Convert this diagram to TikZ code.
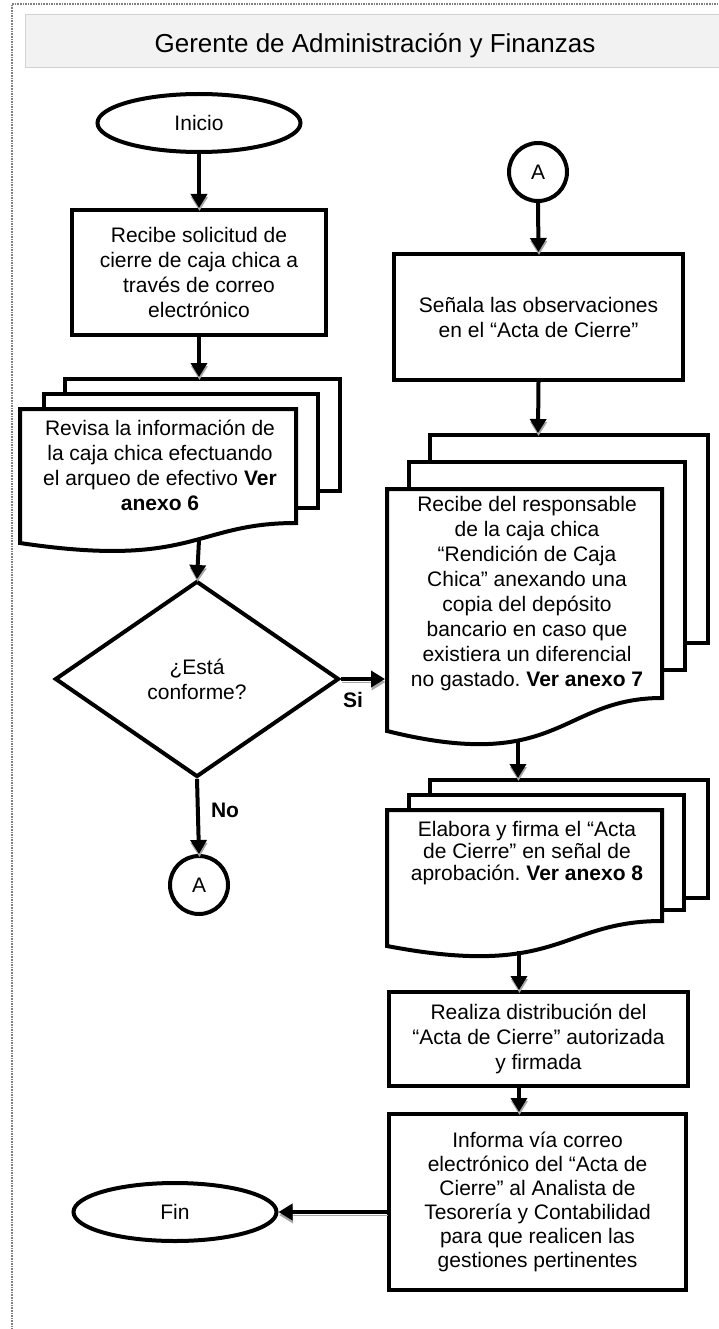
\documentclass[tikz,border=0pt]{standalone}
\usepackage{fontspec}
\setmainfont{Liberation Sans}
\usetikzlibrary{arrows.meta,shapes.geometric,calc}
\frenchspacing
\begin{document}
\begin{tikzpicture}[x=1pt,y=-1pt,
  every node/.style={font=\fontsize{21}{25}\selectfont, align=center, inner sep=0pt},
  proc/.style={draw, line width=4pt, fill=white, rectangle},
  term/.style={draw, line width=4pt, fill=white, ellipse, minimum width=203pt, minimum height=58pt},
  conn/.style={draw, line width=4pt, fill=white, circle, minimum size=58pt},
  page/.style={draw, line width=4pt, fill=white, line join=miter},
  flow/.style={line width=4pt, -{Triangle[width=16pt,length=14pt]},
    preaction={draw=black!35, transform canvas={shift={(0.5pt,-3pt)}}}},
  lbl/.style={font=\fontsize{21}{25}\selectfont\bfseries}]
\useasboundingbox (0,0) rectangle (719,1329);
% page border
\draw[black!50, line width=1.3pt, dash pattern=on 1.6pt off 1pt] (12,1335) -- (12,4) -- (725,4);
% header
\node[fill=black!5, draw=black!18, line width=1pt, minimum width=700pt, minimum height=53pt, anchor=north west] (hdrbox) at (25,14) {};
\node[font=\fontsize{26}{30}\selectfont] (hdr) at (375,46) {Gerente de Administración y Finanzas};
% left column
\node[term] (ini) at (199,123) {Inicio};
\node[proc, minimum width=254pt, minimum height=125pt] (b1) at (199,272.5)
  {Recibe solicitud de\\cierre de caja chica a\\través de correo\\electrónico};
% multidocument 1
\draw[page] (65,379) rectangle (340,491);
\draw[page] (44,394) rectangle (318,508);
\draw[page] (20,409) -- (296,409) -- (296,523) .. controls (194,523) and (194,569) .. (20,543) -- cycle;
\node (d1) at (160,465) {Revisa la información de\\la caja chica efectuando\\el arqueo de efectivo \textbf{Ver}\\\textbf{anexo 6}};
\coordinate (d1in) at (199,377);
\coordinate (d1out) at (199,540);
% decision
\node[draw, line width=4pt, fill=white, diamond, minimum width=284pt, minimum height=196pt] (dec) at (197,679) {¿Está\\conforme?};
\node[conn] (ca1) at (199,885) {A};
% right column
\node[conn] (ca2) at (538,172) {A};
\node[proc, minimum width=289pt, minimum height=126pt] (b2) at (538.5,317)
  {Señala las observaciones\\en el “Acta de Cierre”};
% multidocument 2
\draw[page] (430,435) rectangle (708,643);
\draw[page] (409,462) rectangle (685,670);
\draw[page] (387,489) -- (662,489) -- (662,698) .. controls (560,698) and (560,774) .. (387,731) -- cycle;
\node (d2) at (527,594) {Recibe del responsable\\de la caja chica\\“Rendición de Caja\\Chica” anexando una\\copia del depósito\\bancario en caso que\\existiera un diferencial\\no gastado. \textbf{Ver anexo 7}};
\coordinate (d2in) at (538,433);
\coordinate (d2left) at (385,679);
\coordinate (d2out) at (518,739);
% multidocument 3
\draw[page] (430,780) rectangle (708,898);
\draw[page] (409,795) rectangle (684,910);
\draw[page] (387,810) -- (662,810) -- (662,921) .. controls (560,921) and (560,979) .. (387,946) -- cycle;
\node[font=\fontsize{21}{22}\selectfont] (d3) at (527,853) {Elabora y firma el “Acta\\de Cierre” en señal de\\aprobación. \textbf{Ver anexo 8}};
\coordinate (d3in) at (518,778);
\coordinate (d3out) at (519,951);
% processes
\node[proc, minimum width=299pt, minimum height=94pt] (b4) at (538.5,1039)
  {Realiza distribución del\\“Acta de Cierre” autorizada\\y firmada};
\node[proc, minimum width=297pt, minimum height=176pt, font=\fontsize{21}{24}\selectfont] (b5) at (537.5,1202)
  {Informa vía correo\\electrónico del “Acta de\\Cierre” al Analista de\\Tesorería y Contabilidad\\para que realicen las\\gestiones pertinentes};
\node[term] (fin) at (175,1212) {Fin};
% labels
\node[lbl] (si) at (353,700) {Si};
\node[lbl] (no) at (225,810) {No};
% connectors
\draw[flow] (ini) -- (b1);
\draw[flow] (b1.south) -- (d1in);
\draw[flow] (d1out) -- (dec.north);
\draw[flow] (dec.east) -- (d2left);
\draw[flow] (dec.south) -- (ca1.north);
\draw[flow] (ca2.south) -- (b2.north);
\draw[flow] (b2.south) -- (d2in);
\draw[flow] (d2out) -- (d3in);
\draw[flow] (d3out) -- (b4.north -| d3out);
\draw[flow] (b4.south -| d3out) -- (b5.north -| d3out);
\draw[flow] (b5.west |- fin.east) -- (fin.east);
\end{tikzpicture}
\end{document}
